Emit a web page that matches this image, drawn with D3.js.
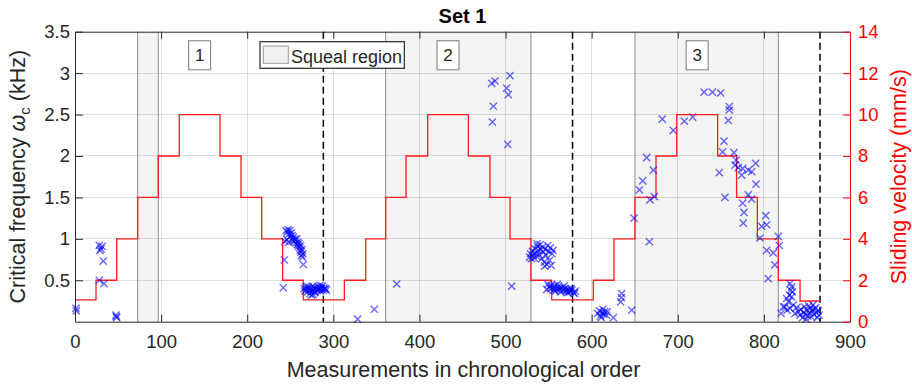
<!DOCTYPE html>
<html>
<head>
<meta charset="utf-8">
<script src="https://cdn.jsdelivr.net/npm/d3@7"></script>
<style>
  body { margin: 0; background: #fff; }
  text { font-family: "Liberation Sans", Arial, Helvetica, sans-serif; }
</style>
</head>
<body>
<svg id="chart" width="912" height="385"></svg>
<script>
// ---- data ---------------------------------------------------------------
// Sliding-velocity programme (mm/s): level i holds from velocityBreaks[i] to velocityBreaks[i+1]
const velocityBreaks = [0, 24.4, 48.4, 72.8, 96.7, 121.1, 168.4, 192.8, 216.8, 241.2, 265.1,
  312.8, 337.6, 360.8, 384.4, 409.6, 456.8, 481.9, 505.2, 529.5, 553.6,
  601.9, 625.9, 650.3, 674.7, 698.8, 746.3, 768.3, 792.4, 816.8, 842, 865.2];
const velocityLevels = [1.05, 2, 4, 6, 8, 10, 8, 6, 4, 2,
  1.05, 2, 4, 6, 8, 10, 8, 6, 4, 2,
  1.05, 2, 4, 6, 8, 10, 8, 6, 4, 2, 1];

// Squeal regions (measurement index)
const squealStart = [72.8, 360.8, 650.3];
const squealEnd = [96.7, 529.5, 816.8];

// End of each velocity cycle
const cycleEnds = [288.4, 577.8, 865.2];

// Cycle labels placed over the 10 mm/s plateaus
const cycleLabels = ["1", "2", "3"];
const cycleLabelX = [144.75, 433.2, 722.5];

// Critical frequency measurements: [measurement index, kHz]
const critCycle1Up = [[1.2, 0.16], [1.6, 0.13], [28.2, 0.92], [29.0, 0.86], [30.2, 0.88], [31.4, 0.91],
  [32.9, 0.73], [28.2, 0.50], [33.7, 0.46], [47.6, 0.08], [48.4, 0.05], [47.9, 0.06]];
const critCycle1Down = [[243.9, 0.97], [243.1, 0.745], [241.9, 0.41], [265.2, 0.69],
  [245, 1.10], [246.5, 1.08], [247.5, 1.11], [248.5, 1.06], [249.5, 1.10], [250, 1.03], [251, 1.07],
  [252, 1.04], [252.5, 0.99], [253.5, 1.02], [254, 0.97], [255, 1.00], [256, 0.98], [256.5, 0.95],
  [257.5, 1.00], [258, 0.93], [259, 0.96], [259.5, 0.91], [260, 0.94], [261, 0.89], [261.5, 0.86],
  [262, 0.92], [262.5, 0.84], [263, 0.80], [263.5, 0.87], [264, 0.78], [264.5, 0.82], [246, 0.99], [248, 0.96]];
const critCycle1Low = [[266, 0.40], [267, 0.37], [268, 0.42], [269, 0.39], [270, 0.36], [271, 0.41],
  [272, 0.38], [273, 0.34], [274, 0.40], [275, 0.37], [276, 0.43], [276.5, 0.33], [277, 0.39],
  [278, 0.41], [279, 0.36], [280, 0.40], [281, 0.38], [282, 0.42], [283, 0.39], [284, 0.41],
  [285, 0.37], [286, 0.40], [287, 0.43], [288, 0.38], [289, 0.41], [290, 0.39], [291, 0.40],
  [292, 0.38], [270.5, 0.42], [278.5, 0.35], [284.5, 0.44], [274.5, 0.32]];
const critBetween12 = [[328.3, 0.03], [347.6, 0.15], [373.6, 0.455]];
const critCycle2Up = [[483.9, 2.877], [487.7, 2.905], [485.8, 2.60], [484.7, 2.41], [505.2, 2.97],
  [501.3, 2.82], [503.2, 2.74], [502.5, 2.14], [507.1, 0.43]];
const critCycle2Down = [[528, 0.78], [529, 0.82], [530, 0.76], [531, 0.85], [532, 0.80], [533, 0.77],
  [534, 0.88], [535, 0.83], [536, 0.79], [537, 0.91], [538, 0.86], [539, 0.81], [540, 0.93],
  [541, 0.87], [542, 0.76], [543, 0.90], [544, 0.84], [545, 0.72], [546, 0.88], [547, 0.80],
  [548, 0.69], [549, 0.92], [550, 0.85], [551, 0.74], [552, 0.89], [553, 0.68], [554, 0.82],
  [555, 0.86], [545.5, 0.67], [536.5, 0.94]];
const critCycle2Low = [[547.8, 0.39], [549, 0.45], [551, 0.42], [553, 0.44], [555, 0.41], [557, 0.43],
  [559, 0.40], [561, 0.42], [563, 0.39], [565, 0.41], [567, 0.38], [569, 0.40], [571, 0.37],
  [573, 0.39], [575, 0.36], [577, 0.38], [579, 0.35], [581, 0.37], [556, 0.38], [560, 0.45],
  [564, 0.36], [568, 0.43], [572, 0.35], [576, 0.40], [580, 0.34], [552, 0.40], [558, 0.37],
  [562, 0.40], [570, 0.38], [574, 0.37]];
const critBetween23 = [[607, 0.10], [609, 0.13], [610, 0.07], [612, 0.11], [613, 0.15], [614, 0.09],
  [615, 0.12], [617, 0.08], [618, 0.12], [611, 0.05], [625.1, 0.05], [633.7, 0.24], [634.5, 0.29],
  [634.9, 0.34], [646.5, 0.14]];
const critCycle3 = [[649.2, 1.25], [655.4, 1.59], [659.3, 1.70], [663.9, 1.98], [671.6, 1.83],
  [667.7, 1.47], [672.8, 1.51], [667, 0.965], [682, 2.446], [694.8, 2.31], [707.6, 2.42],
  [717.3, 2.47], [730.5, 2.77], [740.1, 2.77], [749.8, 2.76], [759.8, 2.595], [759.8, 2.555],
  [758.6, 2.43], [753.7, 2.18], [752.1, 2.05], [748.2, 1.80], [754.8, 1.50], [765.3, 2.04],
  [767.6, 1.95], [766.5, 1.89], [770.3, 1.86], [774.2, 1.77], [775.4, 1.85], [781.9, 1.83],
  [785.8, 1.81], [790.5, 1.91], [790.8, 1.66], [781.9, 1.53], [785.8, 1.48], [775.4, 1.43],
  [776.9, 1.32], [776.1, 1.19], [802.1, 1.28], [803.2, 1.17], [797.4, 1.15], [795.5, 1.01],
  [803.2, 0.86], [810.9, 0.83], [812.7, 0.685], [805, 0.52], [816.8, 1.03], [818, 0.92]];
const critCycle3Low = [[822.5, 0.18], [824.5, 0.18], [826.5, 0.28], [828.4, 0.24], [829.6, 0.32],
  [830.3, 0.46], [831.2, 0.38], [832.3, 0.42], [832.3, 0.30], [833, 0.36], [830.3, 0.16],
  [834.2, 0.20], [838, 0.17], [840, 0.12], [842, 0.08], [843, 0.15], [845, 0.05], [846, 0.11],
  [847, 0.18], [848, 0.09], [849, 0.03], [850, 0.14], [851, 0.07], [852, 0.19], [853, 0.11],
  [854, 0.16], [855, 0.06], [856, 0.13], [857, 0.20], [858, 0.09], [859, 0.15], [860, 0.17],
  [861, 0.11], [862, 0.05], [863, 0.13], [864, 0.08], [836, 0.10], [827, 0.14], [820, 0.10]];

// Tick values
const xTicks = [0, 100, 200, 300, 400, 500, 600, 700, 800, 900];
const freqTicks = [0.5, 1, 1.5, 2, 2.5, 3, 3.5];
const velTicks = [0, 2, 4, 6, 8, 10, 12, 14];

// ---- layout -------------------------------------------------------------
const svg = d3.select("#chart");
const plotL = 75, plotR = 850, plotT = 31.7, plotB = 321.7;
const ink = "#262626";
const fmt = d3.format("~g");

const x = d3.scaleLinear().domain([0, 900]).range([plotL, plotR]);
const yF = d3.scaleLinear().domain([0, 3.5]).range([plotB, plotT]);
const yV = d3.scaleLinear().domain([0, 14]).range([plotB, plotT]);

svg.append("rect").attr("width", 912).attr("height", 385).attr("fill", "#fff");

// squeal regions
const regions = squealStart.map((s, i) => ({ s, e: squealEnd[i] }));
svg.append("g").selectAll("rect").data(regions).join("rect")
  .attr("x", d => x(d.s)).attr("width", d => x(d.e) - x(d.s))
  .attr("y", plotT).attr("height", plotB - plotT)
  .attr("fill", "#f4f4f4");

// grid
const grid = svg.append("g").attr("stroke", ink).attr("stroke-opacity", 0.15)
  .attr("shape-rendering", "crispEdges");
grid.selectAll(".gx").data(xTicks.filter(t => t > 0 && t < 900)).join("line")
  .attr("x1", d => x(d)).attr("x2", d => x(d)).attr("y1", plotT).attr("y2", plotB);
grid.selectAll(".gy").data(freqTicks.filter(t => t < 3.5)).join("line")
  .attr("y1", d => yF(d)).attr("y2", d => yF(d)).attr("x1", plotL).attr("x2", plotR);

// region edges
const edges = squealStart.concat(squealEnd);
svg.append("g").selectAll("line").data(edges).join("line")
  .attr("x1", d => x(d)).attr("x2", d => x(d)).attr("y1", plotT).attr("y2", plotB)
  .attr("stroke", "#8a8a8a").attr("stroke-width", 1);

// cycle separators
svg.append("g").selectAll("line").data(cycleEnds).join("line")
  .attr("x1", d => x(d)).attr("x2", d => x(d)).attr("y1", plotT).attr("y2", plotB)
  .attr("stroke", "#000").attr("stroke-width", 1.5).attr("stroke-dasharray", "7,4");

// velocity step line
const stepPts = velocityLevels.map((v, i) => [velocityBreaks[i], v]);
stepPts.push([velocityBreaks[velocityBreaks.length - 1], velocityLevels[velocityLevels.length - 1]]);
svg.append("path").datum(stepPts)
  .attr("d", d3.line().x(d => x(d[0])).y(d => yV(d[1])).curve(d3.curveStepAfter))
  .attr("fill", "none").attr("stroke", "#ff1a1a").attr("stroke-width", 1.3);

// critical frequency markers
const crit = [].concat(critCycle1Up, critCycle1Down, critCycle1Low, critBetween12,
  critCycle2Up, critCycle2Down, critCycle2Low, critBetween23, critCycle3, critCycle3Low);
svg.append("g").selectAll("path").data(crit).join("path")
  .attr("transform", d => `translate(${x(d[0])},${yF(d[1])})`)
  .attr("d", "M-3.6,-3.6L3.6,3.6M-3.6,3.6L3.6,-3.6")
  .attr("stroke", "#0000ff").attr("stroke-opacity", 0.6).attr("stroke-width", 1.4).attr("fill", "none");

// cycle labels
const boxes = svg.append("g").selectAll("g").data(cycleLabels).join("g")
  .attr("transform", (d, i) => `translate(${x(cycleLabelX[i])},${yF(3.215)})`);
boxes.append("rect").attr("x", -11).attr("y", -14.5).attr("width", 22).attr("height", 29)
  .attr("fill", "#fff").attr("stroke", "#7a7a7a").attr("stroke-width", 1);
boxes.append("text").attr("text-anchor", "middle").attr("y", 6)
  .attr("font-size", 17).attr("fill", ink).text(d => d);

// legend
const lg = svg.append("g");
lg.append("rect").attr("x", 260).attr("y", 41.7).attr("width", 144.3).attr("height", 26.6)
  .attr("fill", "#fff").attr("stroke", ink).attr("stroke-width", 1.2);
lg.append("rect").attr("x", 263.3).attr("y", 46).attr("width", 25).attr("height", 17.3)
  .attr("fill", "#f0f0f0").attr("stroke", "#9a9a9a");
lg.append("text").attr("x", 291).attr("y", 62.5).attr("font-size", 18).attr("fill", ink)
  .text("Squeal region");

// axes
function styleAxis(g, color, size) {
  g.selectAll("path.domain").attr("stroke", color);
  g.selectAll(".tick line").attr("stroke", color);
  g.selectAll(".tick text").attr("fill", color).attr("font-size", size)
    .style("font-family", '"Liberation Sans", Arial, sans-serif');
}
const gx = svg.append("g").attr("transform", `translate(0,${plotB})`)
  .call(d3.axisBottom(x).tickValues(xTicks).tickFormat(fmt).tickSizeInner(-7).tickSizeOuter(0).tickPadding(13));
styleAxis(gx, ink, 18.5);
gx.selectAll(".tick").filter(d => d === 0 || d === 900).select("line").remove();

const gt = svg.append("g").attr("transform", `translate(0,${plotT})`)
  .call(d3.axisTop(x).tickValues(xTicks).tickSizeInner(-7).tickSizeOuter(0).tickFormat(""));
styleAxis(gt, ink, 0);
gt.selectAll(".tick").filter(d => d === 0 || d === 900).select("line").remove();

const gl = svg.append("g").attr("transform", `translate(${plotL},0)`)
  .call(d3.axisLeft(yF).tickValues(freqTicks).tickFormat(fmt).tickSizeInner(-8).tickSizeOuter(0).tickPadding(5));
styleAxis(gl, ink, 18.5);

const gr = svg.append("g").attr("transform", `translate(${plotR},0)`)
  .call(d3.axisRight(yV).tickValues(velTicks).tickFormat(fmt).tickSizeInner(-7).tickSizeOuter(0).tickPadding(8));
styleAxis(gr, "#ff0000", 18.5);

// titles
svg.append("text").attr("x", 462.5).attr("y", 23).attr("text-anchor", "middle")
  .attr("font-size", 20).attr("font-weight", "bold").attr("fill", "#000").text("Set 1");

svg.append("text").attr("x", 463.5).attr("y", 377).attr("text-anchor", "middle")
  .attr("font-size", 21.5).attr("fill", ink).text("Measurements in chronological order");

const yl = svg.append("text").attr("transform", `translate(25,${(plotT + plotB) / 2}) rotate(-90)`)
  .attr("text-anchor", "middle").attr("font-size", 21.5).attr("fill", ink);
yl.append("tspan").text("Critical frequency ");
yl.append("tspan").attr("font-style", "italic").text("ω");
yl.append("tspan").attr("font-size", 15).attr("dy", 5).text("c");
yl.append("tspan").attr("dy", -5).text(" (kHz)");

svg.append("text").attr("transform", `translate(906,${(plotT + plotB) / 2}) rotate(-90)`)
  .attr("text-anchor", "middle").attr("font-size", 21.5).attr("fill", "#ff0000")
  .text("Sliding velocity (mm/s)");
</script>
</body>
</html>
